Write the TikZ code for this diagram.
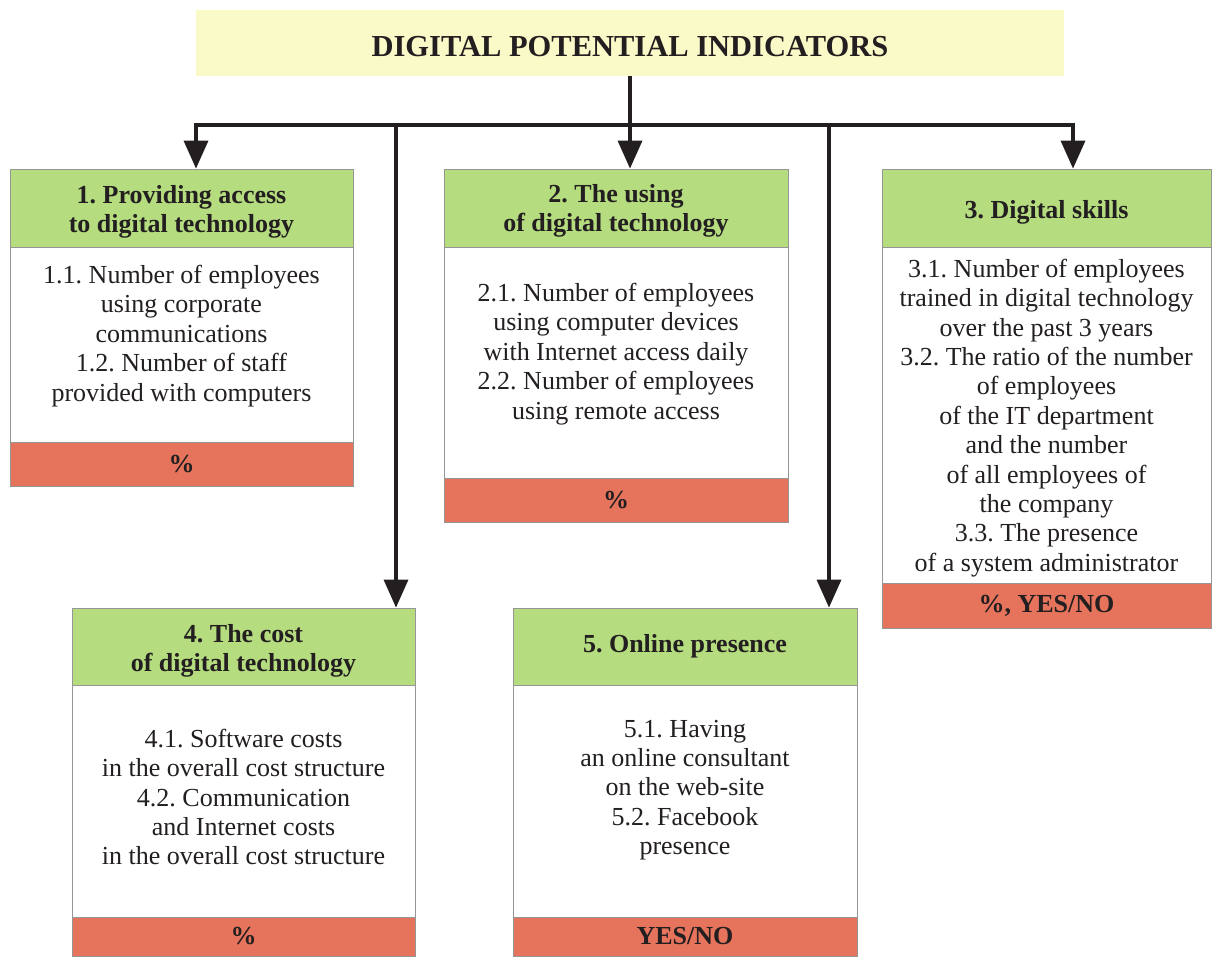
\documentclass[tikz,border=0pt]{standalone}
\usepackage{fontspec}
\setmainfont{Liberation Serif}
\usetikzlibrary{arrows.meta}
\definecolor{titlebg}{RGB}{250,249,200}
\definecolor{hdr}{RGB}{181,220,127}
\definecolor{ftr}{RGB}{230,116,92}
\definecolor{ink}{RGB}{35,31,32}
\definecolor{edge}{RGB}{150,150,150}
\begin{document}
\frenchspacing
\begin{tikzpicture}[x=1pt,y=-1pt,
  box/.style={rectangle, draw=edge, line width=0.8pt, inner sep=0pt, align=center, text=ink},
  hdrbox/.style={box, fill=hdr},
  hdrtext/.style={inner sep=0pt, align=center, text=ink, font=\fontsize{26}{29.4}\selectfont\bfseries},
  bodybox/.style={box, fill=white},
  bodytext/.style={inner sep=0pt, align=center, text=ink, font=\fontsize{26}{29.4}\selectfont},
  ftrbox/.style={box, fill=ftr, font=\fontsize{26}{29.4}\selectfont\bfseries},
  conn/.style={line width=3.5pt, draw=ink},
  arr/.style={conn, -{Triangle[length=28pt,width=24pt]}},
]
\useasboundingbox[fill=white] (0,0) rectangle (1212,956);

% title
\node[fill=titlebg, minimum width=868pt, minimum height=66pt, inner sep=0pt, text=ink,
      text height=27pt, text depth=0pt,
      font=\fontsize{30.5}{34}\selectfont\bfseries] (title) at (630,43) {DIGITAL POTENTIAL INDICATORS};

% box 1
\node[hdrbox, minimum width=343pt, minimum height=78pt] (h1) at (181.5,208) {};
\node[hdrtext] (ht1) at (181.5,212) {1. Providing access\\to digital technology};
\node[bodybox, minimum width=343pt, minimum height=195pt] (b1) at (181.5,344.5) {};
\node[bodytext] (t1) at (181.5,336) {1.1. Number of employees\\using corporate\\communications\\1.2. Number of staff\\provided with computers};
\node[ftrbox, minimum width=343pt, minimum height=44pt] (f1) at (181.5,464) {\%};

% box 2
\node[hdrbox, minimum width=344pt, minimum height=78pt] (h2) at (616,208) {};
\node[hdrtext] (ht2) at (616,211) {2. The using\\of digital technology};
\node[bodybox, minimum width=344pt, minimum height=231pt] (b2) at (616,362.5) {};
\node[bodytext] (t2) at (616,354) {2.1. Number of employees\\using computer devices\\with Internet access daily\\2.2. Number of employees\\using remote access};
\node[ftrbox, minimum width=344pt, minimum height=44pt] (f2) at (616,500) {\%};

% box 3
\node[hdrbox, minimum width=329pt, minimum height=78pt] (h3) at (1046.5,208) {};
\node[hdrtext] (ht3) at (1046.5,212) {3. Digital skills};
\node[bodybox, minimum width=329pt, minimum height=336pt] (b3) at (1046.5,415) {};
\node[bodytext] (t3) at (1046.5,418) {3.1. Number of employees\\trained in digital technology\\over the past 3 years\\3.2. The ratio of the number\\of employees\\of the IT department\\and the number\\of all employees of\\the company\\3.3. The presence\\of a system administrator};
\node[ftrbox, minimum width=329pt, minimum height=45pt] (f3) at (1046.5,605.5) {\%, YES/NO};

% box 4
\node[hdrbox, minimum width=343pt, minimum height=77pt] (h4) at (243.5,646.5) {};
\node[hdrtext] (ht4) at (243.5,651) {4. The cost\\of digital technology};
\node[bodybox, minimum width=343pt, minimum height=232pt] (b4) at (243.5,801) {};
\node[bodytext] (t4) at (243.5,797) {4.1. Software costs\\in the overall cost structure\\4.2. Communication\\and Internet costs\\in the overall cost structure};
\node[ftrbox, minimum width=343pt, minimum height=39pt] (f4) at (243.5,936.5) {\%};

% box 5
\node[hdrbox, minimum width=344pt, minimum height=77pt] (h5) at (685,646.5) {};
\node[hdrtext] (ht5) at (685,646.5) {5. Online presence};
\node[bodybox, minimum width=344pt, minimum height=232pt] (b5) at (685,801) {};
\node[bodytext] (t5) at (685,790) {5.1. Having\\an online consultant\\on the web-site\\5.2. Facebook\\presence};
\node[ftrbox, minimum width=344pt, minimum height=39pt] (f5) at (685,936.5) {YES/NO};

% connectors
\coordinate (j) at (630,125);
\coordinate (c1) at (196,125);
\coordinate (c3) at (1073,125);
\coordinate (c4) at (396,125);
\coordinate (c5) at (829,125);
\draw[arr] (j) -- (c1) -- (c1 |- h1.north);
\draw[arr] (j) -- (c3) -- (c3 |- h3.north);
\draw[arr] (title.south) -- (title.south |- h2.north);
\draw[arr] (c4) -- (c4 |- h4.north);
\draw[arr] (c5) -- (c5 |- h5.north);
\end{tikzpicture}
\end{document}
